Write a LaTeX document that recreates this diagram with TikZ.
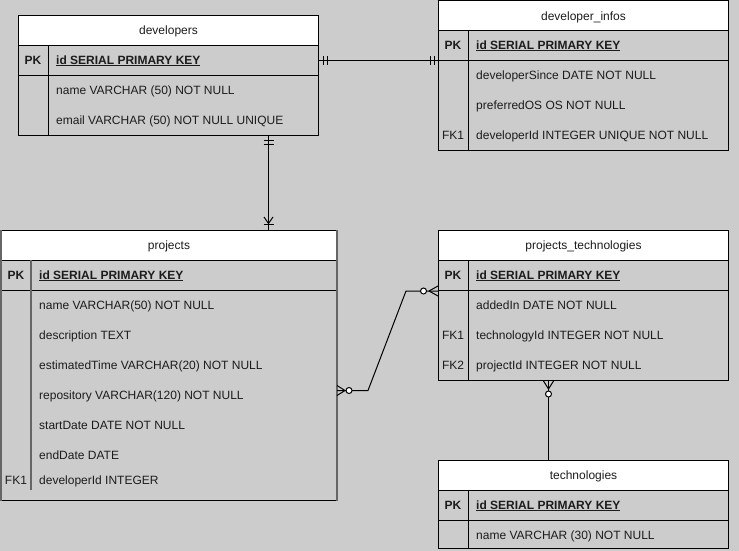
\documentclass[tikz,border=0pt]{standalone}
\usepackage{fontspec}
\setmainfont{Liberation Sans}
\usepackage{tikz}
\definecolor{erbg}{RGB}{204,204,204}
\definecolor{erline}{RGB}{102,102,102}
\definecolor{ertext}{RGB}{28,28,28}
\tikzset{
	tablebox/.style={draw, fill=erbg, anchor=north west, inner sep=0pt, line width=1pt},
	headbox/.style={draw, fill=white, anchor=north west, minimum height=30pt, inner sep=0pt, line width=1pt, text=ertext, text height=8.2pt, text depth=0pt, font=\fontsize{12}{14}\selectfont},
	pkbox/.style={draw, fill=erbg, anchor=north west, minimum height=30pt, inner sep=0pt, line width=1pt},
	rowtext/.style={anchor=west, inner sep=0pt, text=ertext, text height=8.2pt, text depth=0pt, font=\fontsize{12}{14}\selectfont},
	keytext/.style={anchor=center, inner sep=0pt, text=ertext, text height=8.2pt, text depth=0pt, font=\fontsize{12}{14}\selectfont},
	pktext/.style={rowtext, font=\fontsize{12}{14}\selectfont\bfseries},
	pkkey/.style={keytext, font=\fontsize{12}{14}\selectfont\bfseries},
	relline/.style={line width=1pt},
}
\begin{document}
\begin{tikzpicture}[x=1pt,y=-1pt]
	\useasboundingbox (0,0) rectangle (739,551);
	\fill[erbg] (0,0) rectangle (739,551);
	% developers
	\node[tablebox, minimum width=300pt, minimum height=120pt] (dev) at (18,15) {};
	\node[pkbox, minimum width=300pt] (devpk) at (18,45) {};
	\node[headbox, minimum width=300pt] (devhead) at (18,15) {developers};
	\draw[line width=1pt] ([xshift=30pt]devpk.north west) -- ([xshift=30pt]dev.south west);
	\node[pkkey] (devk1) at (33,60) {PK};
	\node[pktext] (devr1) at (56,60) {\underline{id SERIAL PRIMARY KEY}};
	\node[rowtext] (devr2) at (56,90) {name VARCHAR (50) NOT NULL};
	\node[rowtext] (devr3) at (56,120) {email VARCHAR (50) NOT NULL UNIQUE};
	% developer_infos
	\node[tablebox, minimum width=290pt, minimum height=149.5pt] (info) at (438,0.5) {};
	\node[pkbox, minimum width=290pt] (infopk) at (438,30.5) {};
	\node[headbox, minimum width=290pt] (infohead) at (438,0.5) {developer\_infos};
	\draw[line width=1pt] ([xshift=30pt]infopk.north west) -- ([xshift=30pt]info.south west);
	\node[pkkey] (infok1) at (453,45) {PK};
	\node[pktext] (infor1) at (476,45) {\underline{id SERIAL PRIMARY KEY}};
	\node[rowtext] (infor2) at (476,75) {developerSince DATE NOT NULL};
	\node[rowtext] (infor3) at (476,105) {preferredOS OS NOT NULL};
	\node[keytext] (infok4) at (453,135) {FK1};
	\node[rowtext] (infor4) at (476,135) {developerId INTEGER UNIQUE NOT NULL};
	% projects
	\node[tablebox, minimum width=335pt, minimum height=270pt] (proj) at (1,230) {};
	\node[pkbox, minimum width=335pt] (projpk) at (1,260) {};
	\node[headbox, minimum width=335pt] (projhead) at (1,230) {projects};
	\draw[erline, line width=1.3pt] ([xshift=30pt]projpk.north west) -- ++(0,230);
	\draw[erline, line width=1.6pt] (proj.north west) -- (proj.south west);
	\draw[erline, line width=1.6pt] (proj.north east) -- (proj.south east);
	\node[pkkey] (projk1) at (16,275) {PK};
	\node[pktext] (projr1) at (39,275) {\underline{id SERIAL PRIMARY KEY}};
	\node[rowtext] (projr2) at (39,305) {name VARCHAR(50) NOT NULL};
	\node[rowtext] (projr3) at (39,335) {description TEXT};
	\node[rowtext] (projr4) at (39,365) {estimatedTime VARCHAR(20) NOT NULL};
	\node[rowtext] (projr5) at (39,395) {repository VARCHAR(120) NOT NULL};
	\node[rowtext] (projr6) at (39,425) {startDate DATE NOT NULL};
	\node[rowtext] (projr7) at (39,455) {endDate DATE};
	\node[keytext] (projk8) at (16,480) {FK1};
	\node[rowtext] (projr8) at (39,480) {developerId INTEGER};
	% projects_technologies
	\node[tablebox, minimum width=290pt, minimum height=150pt] (pt) at (438,230) {};
	\node[pkbox, minimum width=290pt] (ptpk) at (438,260) {};
	\node[headbox, minimum width=290pt] (pthead) at (438,230) {projects\_technologies};
	\draw[line width=1pt] ([xshift=30pt]ptpk.north west) -- ([xshift=30pt]pt.south west);
	\node[pkkey] (ptk1) at (453,275) {PK};
	\node[pktext] (ptr1) at (476,275) {\underline{id SERIAL PRIMARY KEY}};
	\node[rowtext] (ptr2) at (476,305) {addedIn DATE NOT NULL};
	\node[keytext] (ptk3) at (453,335) {FK1};
	\node[rowtext] (ptr3) at (476,335) {technologyId INTEGER NOT NULL};
	\node[keytext] (ptk4) at (453,365) {FK2};
	\node[rowtext] (ptr4) at (476,365) {projectId INTEGER NOT NULL};
	% technologies
	\node[tablebox, minimum width=290pt, minimum height=88pt] (tech) at (438,460) {};
	\node[pkbox, minimum width=290pt] (techpk) at (438,490) {};
	\node[headbox, minimum width=290pt] (techhead) at (438,460) {technologies};
	\draw[line width=1pt] ([xshift=30pt]techpk.north west) -- ([xshift=30pt]tech.south west);
	\node[pkkey] (techk1) at (453,505) {PK};
	\node[pktext] (techr1) at (476,505) {\underline{id SERIAL PRIMARY KEY}};
	\node[rowtext] (techr2) at (476,535) {name VARCHAR (30) NOT NULL};
	% developers -- developer_infos (one to one)
	\coordinate (di1) at (devpk.east);
	\coordinate (di2) at (devpk.east -| info.west);
	\draw[relline] (di1) -- (di2);
	\draw[relline] ([xshift=4pt]di1) ++(0,-4.5) -- ++(0,9);
	\draw[relline] ([xshift=8pt]di1) ++(0,-4.5) -- ++(0,9);
	\draw[relline] ([xshift=-4pt]di2) ++(0,-4.5) -- ++(0,9);
	\draw[relline] ([xshift=-7.5pt]di2) ++(0,-4.5) -- ++(0,9);
	% developers -- projects (one to many)
	\coordinate (dp1) at ([xshift=100pt]dev.south);
	\coordinate (dp2) at (dp1 |- proj.north);
	\draw[relline] (dp1) -- (dp2);
	\draw[relline] ([yshift=-4pt]dp1) ++(-5,0) -- ++(10,0);
	\draw[relline] ([yshift=-8pt]dp1) ++(-5,0) -- ++(10,0);
	\draw[relline] ([yshift=13pt]dp2) ++(-4.5,0) -- ([yshift=6.5pt]dp2) -- ++(4.5,-6.5);
	\draw[relline] ([yshift=5.5pt]dp2) ++(-5,0) -- ++(10,0);
	% projects -- projects_technologies (many to many)
	\coordinate (pp1) at ([yshift=-25pt]proj.east);
	\coordinate (pp2) at (ptpk.south west);
	\draw[relline] (pp1) -- ++(31,0) -- ([xshift=-32pt]pp2) -- (pp2);
	\draw[relline] ([xshift=8pt]pp1) -- ++(-8,-5);
	\draw[relline] ([xshift=8pt]pp1) -- ++(-8,5);
	\draw[relline, fill=white] ([xshift=12pt]pp1) circle (3pt);
	\draw[relline] ([xshift=-9pt]pp2) -- ++(9,-5);
	\draw[relline] ([xshift=-9pt]pp2) -- ++(9,5);
	\draw[relline, fill=white] ([xshift=-14.5pt]pp2) circle (3pt);
	% projects_technologies -- technologies
	\coordinate (pt1) at ([xshift=-35pt]pt.south);
	\coordinate (pt2) at (pt1 |- tech.north);
	\draw[relline] (pt1) -- (pt2);
	\draw[relline] ([yshift=-8pt]pt1) -- ++(-5,-8);
	\draw[relline] ([yshift=-8pt]pt1) -- ++(5,-8);
	\draw[relline, fill=white] ([yshift=-13pt]pt1) circle (3pt);
\end{tikzpicture}
\end{document}
